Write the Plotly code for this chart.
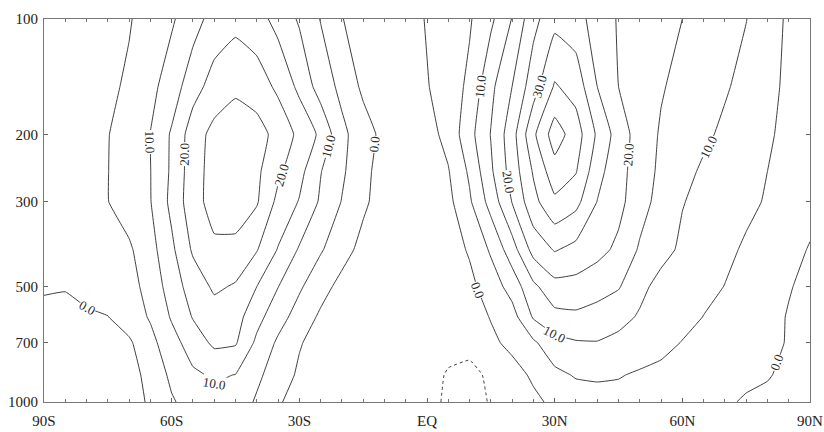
import math
import plotly.graph_objects as go

# Latitude grid (deg, negative = south) and pressure levels (hPa)
lats = list(range(-90, 91, 5))
levels = [100, 150, 200, 250, 300, 400, 500, 600, 700, 850, 1000]

# Zonal-mean wind (m/s), one row per pressure level, -90 .. 90 in 5 deg steps
u100 = [3, 3.5, 4, 4.4, 4.7, 6.8, 9.4, 12.9, 17, 18.5,
        17, 13.3, 9.4, 4.8, 0.2, -2.5, -3.5, -2.5,
        0.4, 2, 4.5, 9, 15.2, 23.5, 28.5, 27, 22.8, 19.6,
        18.1, 16.6, 15.0, 13.4, 11.8, 10.1, 7.3, 4.2, 3]
u150 = [3, 3.5, 3.8, 4.2, 5.6, 8.7, 12.3, 18, 22, 24,
        22.5, 19, 13.8, 7.8, 3.7, -1, -3, -2.5,
        -0.3, 2.5, 6, 13.8, 20, 27.8, 35.5, 33, 25, 20,
        17.7, 15.4, 13.6, 12.1, 10.5, 8.6, 6.1, 4.2, 3]
u200 = [3, 3.5, 4.2, 4.8, 7.4, 10.1, 15.6, 22.6, 26.5, 28,
        27, 23.3, 18.8, 14, 6.2, 2.2, -1.5, -3,
        -1.8, 1.5, 8.3, 15.2, 22.9, 34, 42.5, 37.4, 29.2, 22.7,
        17.7, 14.5, 12.7, 10.9, 9.1, 7.3, 5.5, 4, 3]
u250 = [2.5, 3, 4, 4.9, 7.5, 9.9, 15.8, 22.8, 27, 28.5,
        26, 21, 16.6, 10.2, 5.8, 1.3, -2, -3.2,
        -2.5, -0.3, 5.8, 14.2, 22.1, 30.5, 38, 35.3, 26.7, 21.8,
        17.5, 14, 11.4, 9.3, 7.9, 6.4, 5, 3.5, 2]
u300 = [2.5, 3, 4, 4.9, 7.3, 9.8, 16.3, 23, 27, 28,
        25.5, 18.7, 14.7, 9.3, 4.8, 0.9, -2.3, -3.5,
        -3, -1.3, 4.3, 11.9, 20.2, 28.5, 34, 31.5, 24.9, 21.4,
        17, 13.2, 10.2, 8.8, 7.3, 6, 4.6, 3, 1.5]
u400 = [1.5, 2, 2.5, 3, 4.3, 8.2, 14, 20.7, 24, 23.5,
        20.3, 14.7, 9.5, 5.5, 1.9, -1.5, -3, -3.5,
        -3.3, -2.2, 0.5, 5.7, 12.8, 21.8, 25.4, 23.5, 21.5, 19,
        14.4, 11.5, 9.2, 7.6, 6, 4.4, 3, 1.5, -0.3]
u500 = [0.4, 0.2, 1.5, 2.2, 3.5, 6.5, 12.5, 17.2, 20.8, 19.5,
        15, 10.1, 5.7, 1.8, -1.5, -3, -3.5, -3.5,
        -3.5, -3, -1.2, 2.3, 7, 13.9, 18.3, 18.3, 17, 15.4,
        11.2, 8.5, 7.5, 6.3, 4.9, 3.4, 1.9, 0.3, -1.2]
u600 = [-1, -1, -0.7, -0.1, 2.3, 5.5, 10.5, 15.3, 17.8, 17,
        11.6, 7, 2.9, -0.8, -2.5, -3.3, -3.5, -3.5,
        -3.8, -3.8, -2.8, 0.3, 3, 10.5, 13.5, 14, 13, 11.5,
        9.5, 8.2, 6.7, 4.9, 3.7, 2.6, 1.5, -0.3, -1.5]
u700 = [-2, -2, -1.8, -1.2, -0.7, 3.5, 8.2, 12.3, 16, 15.5,
        9, 4.2, 0.4, -2, -3, -3.5, -3.8, -4,
        -4.2, -4.3, -4.3, -1.2, 1.5, 4.2, 8.3, 9.6, 9.8, 8.8,
        7.8, 6.6, 4.8, 3.7, 2.8, 1.9, 1.1, -0.3, -1.6]
u850 = [-2.5, -2.5, -2.2, -1.8, -1.2, 1, 6.2, 9.2, 10.6, 9.9,
        6, 2.6, -0.8, -2.5, -3.2, -3.5, -4, -4.1,
        -4.2, -5.2, -5.6, -4.6, -2.2, 0.9, 3.8, 5.4, 5.6, 5.3,
        4.4, 3.6, 2.9, 2.2, 1.4, 0.8, 0.4, -1.3, -2]
u1000 = [-3, -3, -2.8, -2.3, -1.5, 0.5, 4.4, 7.3, 8.5, 7.7,
         4.4, 0.6, -2.2, -3.5, -4, -4.2, -4.3, -4,
         -3.5, -5.8, -6, -4.8, -3.2, -1.2, 1.2, 2.6, 3.3, 3.4,
         3.1, 2.6, 2, 1.3, 0.5, -0.4, -1.3, -2, -2.5]

u = [u100, u150, u200, u250, u300, u400, u500, u600, u700, u850, u1000]

x_tick_vals = [-90, -60, -30, 0, 30, 60, 90]
x_tick_text = ["90S", "60S", "30S", "EQ", "30N", "60N", "90N"]
y_tick_vals = [100, 200, 300, 500, 700, 1000]
y_tick_text = ["100", "200", "300", "500", "700", "1000"]

# Contour labels: (level, mode, where, search window)
#  mode "row": label sits on the line at pressure `where`, line searched in lat window
#  mode "col": label sits on the line at latitude `where`, line searched in pressure window
label_specs = [
    (10, "row", 210, (-70, -58)),
    (20, "row", 225, (-62, -50)),
    (20, "row", 255, (-40, -28)),
    (10, "row", 215, (-28, -20)),
    (0, "row", 213, (-16, -8)),
    (0, "col", -80, (450, 700)),
    (10, "col", -50, (700, 1000)),
    (10, "row", 150, (8, 18)),
    (30, "row", 150, (22, 30)),
    (20, "row", 266, (14, 24)),
    (20, "row", 226, (43, 52)),
    (10, "row", 216, (58, 72)),
    (0, "row", 510, (8, 17)),
    (10, "col", 30, (550, 750)),
    (0, "row", 790, (75, 90)),
]

LINE = "#2a2a2a"
FONT = "Liberation Serif"

MARGIN = dict(l=44, r=14, t=19, b=30)
FIG_W, FIG_H = 824, 432
PLOT_W = FIG_W - MARGIN["l"] - MARGIN["r"]
PLOT_H = FIG_H - MARGIN["t"] - MARGIN["b"]


def to_px(lat, p):
    return (lat + 90) / 180 * PLOT_W, (math.log10(p) - 2) * PLOT_H


def row_cross(level, k, lo, hi):
    row = u[k]
    for i in range(len(lats) - 1):
        a, b = row[i], row[i + 1]
        if a != b and (a - level) * (b - level) <= 0:
            lat = lats[i] + (level - a) / (b - a) * (lats[i + 1] - lats[i])
            if lo <= lat <= hi:
                return lat
    return None


def col_cross(level, j, lo, hi):
    for k in range(len(levels) - 1):
        a, b = u[k][j], u[k + 1][j]
        if a != b and (a - level) * (b - level) <= 0:
            p = levels[k] + (level - a) / (b - a) * (levels[k + 1] - levels[k])
            if lo <= p <= hi:
                return p
    return None


def norm_angle(t):
    while t > 90:
        t -= 180
    while t <= -90:
        t += 180
    return t


annotations = []
for level, mode, where, (lo, hi) in label_specs:
    if mode == "row":
        k = max(i for i in range(len(levels) - 1) if levels[i] <= where)
        c1 = row_cross(level, k, lo, hi)
        c2 = row_cross(level, k + 1, lo, hi)
        if c1 is None or c2 is None:
            continue
        x1, y1 = to_px(c1, levels[k])
        x2, y2 = to_px(c2, levels[k + 1])
        y0 = (math.log10(where) - 2) * PLOT_H
        x0 = x1 + (x2 - x1) * (y0 - y1) / (y2 - y1)
        lat0 = x0 / PLOT_W * 180 - 90
        p0 = where
    else:
        j = lats.index(where)
        p0 = col_cross(level, j, lo, hi)
        if p0 is None:
            continue
        lat0 = where
        pl = col_cross(level, j - 1, lo, hi) or p0
        pr = col_cross(level, j + 1, lo, hi) or p0
        x1, y1 = to_px(lats[j - 1], pl)
        x2, y2 = to_px(lats[j + 1], pr)
    ang = norm_angle(math.degrees(math.atan2(y2 - y1, x2 - x1)))
    annotations.append(dict(
        x=lat0, y=math.log10(p0), xref="x", yref="y",
        text=f"{level:.1f}", showarrow=False, textangle=ang,
        font=dict(family=FONT, size=13, color=LINE),
        bgcolor="white", borderpad=0, xanchor="center", yanchor="middle",
    ))

fig = go.Figure()


def add_contours(start, end, size, dash="solid"):
    fig.add_trace(go.Contour(
        x=lats, y=levels, z=u,
        showscale=False, hoverinfo="skip",
        contours=dict(start=start, end=end, size=size, coloring="none",
                      showlabels=False),
        line=dict(color=LINE, width=0.9, dash=dash, smoothing=0.3),
    ))


add_contours(0, 30, 10)                   # 0, 10, 20, 30 (labelled)
add_contours(5, 35, 10)                   # 5, 15, 25, 35
add_contours(40, 50, 10)                  # 40 core
add_contours(-15, -5, 10, dash="dot")     # negative (dotted)

fig.update_layout(
    width=FIG_W, height=FIG_H,
    margin=MARGIN,
    paper_bgcolor="white", plot_bgcolor="white",
    showlegend=False,
    font=dict(family=FONT, size=15, color="#222"),
    annotations=annotations,
)
fig.update_xaxes(
    range=[-90, 90], tickmode="array", tickvals=x_tick_vals, ticktext=x_tick_text,
    ticks="inside", ticklen=4, tickcolor="#666", showline=True, linecolor="#777",
    linewidth=1, mirror="ticks", showgrid=False, zeroline=False, automargin=False,
    minor=dict(tickmode="linear", tick0=0, dtick=5, ticks="inside", ticklen=3,
               tickcolor="#777", showgrid=False),
    ticklabelstandoff=5,
)
fig.update_yaxes(
    type="log", range=[3, 2], tickmode="array", tickvals=y_tick_vals,
    ticktext=y_tick_text, ticks="inside", ticklen=4, tickcolor="#666",
    showline=True, linecolor="#777", linewidth=1, mirror="ticks", automargin=False,
    showgrid=False, zeroline=False, ticklabelstandoff=2,
)

fig.write_html("out.html", config={"displayModeBar": False},
               post_script="document.body.style.margin='0';")
